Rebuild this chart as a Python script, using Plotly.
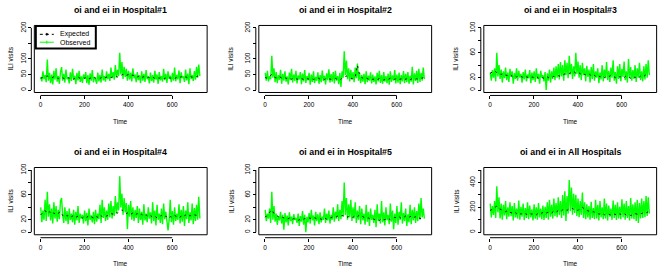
import plotly.graph_objects as go

# ---------------- data ----------------
T_OBS = list(range(1, 731, 5))    # time index of observed values (146 points)
T_EXP = list(range(1, 731, 10))   # time index of expected values (73 points)

obs_h1 = [42, 28, 60, 35, 48, 25, 98, 30, 55, 22,
          50, 18, 62, 33, 70, 27, 45, 20, 58, 74,
          30, 52, 24, 66, 35, 40, 21, 57, 29, 68,
          34, 46, 19, 55, 31, 62, 26, 44, 23, 50,
          36, 58, 22, 48, 17, 54, 30, 64, 25, 42,
          33, 20, 56, 28, 49, 24, 66, 31, 45, 27,
          60, 35, 52, 29, 72, 38, 58, 33, 80, 40,
          65, 45, 120, 50, 90, 36, 75, 42, 68, 30,
          62, 34, 55, 28, 70, 38, 50, 25, 58, 32,
          47, 22, 60, 30, 52, 26, 64, 35, 44, 21,
          56, 29, 48, 24, 62, 33, 50, 20, 58, 31,
          45, 27, 68, 32, 52, 23, 60, 36, 46, 25,
          55, 30, 72, 28, 49, 34, 63, 22, 57, 38,
          44, 26, 66, 31, 53, 19, 70, 35, 48, 29,
          61, 33, 75, 40, 82, 45]
exp_h1 = [38, 40, 42, 45, 41, 39, 43, 40, 37, 42,
          39, 36, 41, 38, 40, 35, 39, 42, 37, 40,
          38, 41, 36, 39, 43, 38, 40, 37, 42, 39,
          41, 44, 40, 43, 46, 42, 45, 48, 52, 47,
          50, 45, 48, 44, 42, 46, 40, 43, 38, 41,
          39, 42, 37, 40, 38, 41, 36, 39, 42, 38,
          40, 37, 41, 39, 43, 38, 42, 40, 44, 41,
          45, 43, 47]

obs_h2 = [55, 30, 62, 28, 45, 35, 110, 40, 70, 25,
          58, 22, 48, 33, 65, 20, 52, 30, 60, 27,
          44, 18, 56, 32, 68, 24, 50, 29, 62, 21,
          47, 34, 58, 19, 53, 28, 64, 23, 45, 31,
          55, 17, 50, 26, 60, 22, 42, 30, 57, 20,
          48, 25, 63, 29, 46, 18, 54, 32, 67, 24,
          51, 27, 58, 21, 62, 30, 45, 19, 55, 10,
          60, 40, 125, 48, 95, 35, 70, 28, 65, 33,
          58, 25, 72, 38, 85, 30, 55, 22, 48, 27,
          52, 19, 60, 25, 46, 30, 57, 21, 50, 26,
          44, 18, 55, 28, 62, 23, 48, 20, 58, 27,
          45, 22, 53, 17, 60, 26, 47, 30, 64, 21,
          50, 24, 56, 19, 48, 28, 61, 22, 52, 25,
          58, 20, 46, 27, 75, 18, 54, 29, 62, 23,
          68, 26, 55, 30, 72, 35]
exp_h2 = [40, 38, 45, 50, 42, 39, 44, 41, 37, 40,
          36, 38, 35, 39, 37, 34, 38, 36, 33, 37,
          35, 38, 34, 36, 39, 35, 37, 34, 38, 36,
          35, 33, 37, 34, 32, 38, 42, 45, 40, 38,
          36, 42, 80, 48, 40, 37, 39, 35, 38, 34,
          36, 33, 37, 35, 32, 36, 34, 38, 33, 35,
          37, 34, 36, 32, 35, 38, 33, 37, 34, 36,
          35, 38, 40]

obs_h3 = [28, 15, 32, 20, 35, 14, 60, 22, 40, 18,
          33, 12, 30, 19, 36, 16, 28, 13, 34, 21,
          30, 10, 27, 18, 35, 15, 31, 20, 26, 12,
          29, 17, 33, 14, 25, 19, 32, 11, 28, 16,
          30, 13, 35, 18, 26, 10, 31, 20, 24, 14,
          29, 0, 27, 15, 33, 12, 30, 18, 36, 16,
          38, 20, 42, 17, 45, 22, 40, 15, 48, 24,
          44, 19, 55, 25, 42, 18, 38, 22, 60, 26,
          46, 20, 40, 16, 44, 24, 35, 14, 39, 21,
          33, 12, 37, 18, 42, 15, 30, 20, 35, 11,
          28, 17, 40, 14, 33, 19, 45, 16, 31, 13,
          36, 20, 48, 15, 29, 10, 38, 18, 42, 14,
          34, 21, 46, 16, 30, 12, 50, 19, 37, 15,
          32, 18, 40, 13, 35, 20, 44, 16, 30, 14,
          38, 17, 42, 20, 48, 24]
exp_h3 = [27, 29, 31, 28, 26, 25, 27, 24, 23, 25,
          22, 24, 21, 23, 22, 20, 22, 21, 19, 21,
          20, 22, 19, 21, 20, 18, 21, 19, 20, 22,
          21, 23, 22, 24, 26, 25, 27, 28, 30, 27,
          29, 26, 28, 25, 24, 26, 23, 25, 22, 24,
          21, 23, 20, 22, 21, 24, 22, 20, 23, 21,
          22, 20, 23, 21, 19, 22, 20, 23, 21, 24,
          22, 25, 27]

obs_h4 = [40, 16, 35, 20, 52, 18, 65, 25, 45, 19,
          38, 14, 48, 22, 42, 17, 36, 21, 50, 55,
          28, 15, 40, 18, 34, 13, 38, 20, 30, 16,
          36, 12, 33, 19, 42, 15, 30, 22, 28, 14,
          35, 18, 31, 11, 38, 20, 27, 16, 33, 13,
          36, 17, 30, 21, 44, 15, 52, 23, 40, 18,
          35, 20, 46, 24, 50, 22, 42, 26, 58, 30,
          48, 35, 90, 40, 62, 28, 55, 32, 47, 5,
          44, 25, 50, 20, 40, 18, 36, 23, 42, 15,
          38, 20, 33, 12, 45, 19, 30, 16, 40, 22,
          32, 14, 48, 18, 35, 11, 44, 20, 30, 15,
          38, 13, 46, 21, 33, 17, 3, 19, 52, 16,
          34, 12, 40, 18, 30, 20, 45, 14, 36, 17,
          42, 10, 35, 21, 48, 15, 32, 19, 46, 13,
          39, 18, 44, 20, 57, 22]
exp_h4 = [28, 32, 35, 30, 33, 29, 31, 28, 30, 33,
          27, 29, 26, 28, 25, 27, 24, 26, 25, 23,
          26, 24, 27, 25, 23, 26, 24, 28, 25, 27,
          26, 28, 30, 29, 32, 31, 34, 36, 33, 30,
          32, 29, 31, 28, 30, 27, 29, 26, 28, 25,
          27, 24, 26, 23, 25, 27, 24, 26, 22, 25,
          24, 27, 25, 23, 26, 24, 28, 25, 27, 26,
          28, 27, 30]

obs_h5 = [36, 18, 30, 22, 38, 15, 65, 20, 42, 17,
          30, 12, 26, 19, 33, 14, 28, 4, 31, 16,
          27, 11, 32, 18, 25, 13, 29, 20, 23, 15,
          30, 10, 26, 17, 34, 12, 28, 0, 25, 16,
          31, 14, 36, 19, 27, 11, 33, 18, 29, 13,
          32, 16, 25, 20, 38, 15, 30, 19, 35, 14,
          28, 20, 40, 17, 33, 22, 45, 18, 36, 21,
          50, 25, 80, 28, 55, 20, 45, 24, 52, 18,
          40, 22, 48, 15, 35, 20, 42, 13, 38, 19,
          30, 12, 44, 17, 33, 10, 38, 20, 28, 15,
          36, 8, 45, 18, 30, 14, 50, 16, 32, 11,
          40, 19, 28, 13, 46, 17, 35, 5, 30, 15,
          42, 12, 33, 20, 48, 14, 31, 18, 38, 10,
          29, 16, 44, 13, 36, 19, 40, 15, 34, 18,
          46, 20, 55, 24, 38, 22]
exp_h5 = [24, 28, 33, 36, 30, 27, 25, 23, 24, 22,
          21, 23, 20, 22, 21, 19, 21, 20, 22, 21,
          23, 22, 24, 23, 21, 22, 20, 23, 21, 22,
          23, 25, 24, 26, 25, 27, 26, 24, 25, 23,
          24, 27, 25, 28, 26, 24, 22, 23, 21, 22,
          20, 21, 19, 22, 20, 21, 23, 20, 22, 24,
          23, 25, 22, 24, 26, 23, 25, 27, 24, 26,
          23, 22, 24]

obs_all = [230, 120, 210, 140, 250, 115, 370, 160, 280, 110,
           230, 100, 220, 135, 250, 105, 200, 125, 240, 130,
           210, 95, 235, 120, 190, 110, 255, 100, 205, 125,
           230, 98, 195, 115, 240, 105, 215, 120, 185, 95,
           225, 110, 200, 100, 235, 120, 190, 105, 215, 98,
           205, 115, 240, 100, 260, 125, 220, 110, 270, 130,
           235, 120, 280, 140, 250, 115, 300, 135, 330, 90,
           290, 150, 420, 170, 360, 140, 310, 155, 300, 130,
           270, 120, 250, 140, 320, 115, 240, 105, 225, 120,
           210, 100, 245, 115, 195, 105, 260, 110, 220, 95,
           250, 120, 200, 105, 270, 110, 230, 95, 215, 125,
           190, 100, 255, 115, 220, 98, 240, 110, 205, 105,
           265, 120, 230, 100, 250, 115, 210, 95, 275, 110,
           225, 105, 240, 90, 260, 75, 235, 110, 270, 115,
           250, 120, 290, 130, 280, 150]
exp_all = [175, 185, 195, 210, 190, 180, 170, 165, 175, 160,
           155, 165, 150, 160, 145, 155, 150, 140, 152, 145,
           150, 140, 155, 148, 160, 150, 158, 165, 155, 170,
           160, 175, 165, 180, 185, 175, 190, 195, 185, 180,
           175, 195, 200, 185, 175, 170, 160, 165, 155, 150,
           145, 155, 140, 150, 145, 138, 150, 140, 135, 148,
           140, 150, 138, 145, 135, 140, 150, 145, 155, 150,
           160, 155, 165]

TITLES = ["oi and ei in Hospital#1", "oi and ei in Hospital#2", "oi and ei in Hospital#3",
          "oi and ei in Hospital#4", "oi and ei in Hospital#5", "oi and ei in All Hospitals"]
OBS = [obs_h1, obs_h2, obs_h3, obs_h4, obs_h5, obs_all]
EXP = [exp_h1, exp_h2, exp_h3, exp_h4, exp_h5, exp_all]
YMAX = [200, 200, 100, 100, 100, 500]
YTICKS = [[0, 50, 100, 150, 200], [0, 50, 100, 150, 200],
          [0, 20, 40, 60, 80, 100], [0, 20, 40, 60, 80, 100],
          [0, 20, 40, 60, 80, 100], [0, 100, 200, 300, 400, 500]]
YTICKTEXT = [["0", "50", "100", "", "200"], ["0", "50", "100", "", "200"],
             ["0", "20", "", "60", "", "100"], ["0", "20", "", "60", "", "100"],
             ["0", "20", "", "60", "", "100"], ["0", "", "200", "", "400", ""]]
XTICKS = [0, 200, 400, 600]
LEGEND_LABELS = ["Expected", "Observed"]

# ---------------- layout geometry ----------------
W, H = 661, 270
FONT = "Liberation Sans, Arial, sans-serif"
GREEN = "#00FF00"
COL_ZERO = [40.5, 265.0, 490.0]     # pixel x of time 0 in each column
XSCALE = 0.2195                      # px per time unit
XLIM = [-28.16, 759.16]
ROW_ZERO = [87.3, 231.7]             # pixel y of value 0
ROW_SPAN = [63.0, 63.2]              # pixels from 0 to ymax
GAP = 3.0

def fx(px):
    return px / W

def fy(py):
    return 1 - py / H

fig = go.Figure()
shapes = []
annotations = []
layout_axes = {}

for k in range(6):
    r, c = divmod(k, 3)
    n = "" if k == 0 else str(k + 1)
    ymax = YMAX[k]
    ylim = [-0.04 * ymax, 1.04 * ymax]
    bx0 = COL_ZERO[c] + XLIM[0] * XSCALE
    bx1 = COL_ZERO[c] + XLIM[1] * XSCALE
    by_top = ROW_ZERO[r] - 1.04 * ROW_SPAN[r]
    by_bot = ROW_ZERO[r] + 0.04 * ROW_SPAN[r]

    fig.add_trace(go.Scatter(x=T_OBS, y=OBS[k], mode="lines",
                             line=dict(color=GREEN, width=1.4),
                             xaxis="x" + n, yaxis="y" + n, showlegend=False,
                             name="Observed"))
    fig.add_trace(go.Scatter(x=T_EXP, y=EXP[k], mode="lines",
                             line=dict(color="black", width=1, dash="2px,4px"),
                             xaxis="x" + n, yaxis="y" + n, showlegend=False,
                             name="Expected"))

    layout_axes["xaxis" + n] = dict(
        domain=[fx(bx0), fx(bx1)], range=XLIM, anchor="free",
        position=fy(by_bot + GAP), showgrid=False, zeroline=False, showline=False,
        ticks="outside", ticklen=3, tickwidth=1, tickcolor="black",
        tickvals=XTICKS, ticktext=[str(v) for v in XTICKS],
        tickfont=dict(family=FONT, size=6.5, color="black"), fixedrange=True)
    layout_axes["yaxis" + n] = dict(
        domain=[fy(by_bot), fy(by_top)], range=ylim, anchor="free",
        position=fx(bx0 - GAP), showgrid=False, zeroline=False, showline=False,
        ticks="outside", ticklen=3, tickwidth=1, tickcolor="black",
        tickvals=YTICKS[k], ticktext=YTICKTEXT[k], tickangle=-90,
        tickfont=dict(family=FONT, size=6.5, color="black"), fixedrange=True)

    # plot box
    shapes.append(dict(type="rect", xref="paper", yref="paper",
                       x0=fx(bx0), x1=fx(bx1), y0=fy(by_bot), y1=fy(by_top),
                       line=dict(color="black", width=1), layer="above"))
    # axis lines (from first to last tick, R style)
    shapes.append(dict(type="line", xref="x" + n, yref="paper",
                       x0=XTICKS[0], x1=XTICKS[-1],
                       y0=fy(by_bot + GAP), y1=fy(by_bot + GAP),
                       line=dict(color="black", width=1)))
    shapes.append(dict(type="line", xref="paper", yref="y" + n,
                       x0=fx(bx0 - GAP), x1=fx(bx0 - GAP),
                       y0=YTICKS[k][0], y1=YTICKS[k][-1],
                       line=dict(color="black", width=1)))

    cx = (bx0 + bx1) / 2
    annotations.append(dict(text="<b>" + TITLES[k] + "</b>", xref="paper", yref="paper",
                            x=fx(cx), y=fy(by_top - 16), showarrow=False,
                            font=dict(family=FONT, size=8.8, color="black"),
                            xanchor="center", yanchor="middle"))
    annotations.append(dict(text="Time", xref="paper", yref="paper",
                            x=fx(cx), y=fy(by_bot + 29.5), showarrow=False,
                            font=dict(family=FONT, size=6.5, color="black"),
                            xanchor="center", yanchor="middle"))
    ylab_x = 10.5 if c == 0 else bx0 - 28
    annotations.append(dict(text="ILI visits", xref="paper", yref="paper",
                            x=fx(ylab_x), y=fy((by_top + by_bot) / 2), showarrow=False,
                            textangle=-90,
                            font=dict(family=FONT, size=6.5, color="black"),
                            xanchor="center", yanchor="middle"))

    if k == 0:
        lx0, ly0 = bx0 + 1.5, by_top + 0.5
        lx1, ly1 = lx0 + 60, ly0 + 23
        shapes.append(dict(type="rect", xref="paper", yref="paper",
                           x0=fx(lx0), x1=fx(lx1), y0=fy(ly1), y1=fy(ly0),
                           line=dict(color="black", width=2), fillcolor="white",
                           layer="above"))
        rows_y = [ly0 + 8.5, ly0 + 16.5]
        # Expected sample: dashed black with dot
        shapes.append(dict(type="line", xref="paper", yref="paper",
                           x0=fx(lx0 + 4), x1=fx(lx0 + 18), y0=fy(rows_y[0]), y1=fy(rows_y[0]),
                           line=dict(color="black", width=1, dash="3px,3px"), layer="above"))
        shapes.append(dict(type="circle", xref="paper", yref="paper",
                           x0=fx(lx0 + 10), x1=fx(lx0 + 12), y0=fy(rows_y[0] + 1), y1=fy(rows_y[0] - 1),
                           line=dict(color="black", width=0.5), fillcolor="black", layer="above"))
        # Observed sample: solid green with small plus
        shapes.append(dict(type="line", xref="paper", yref="paper",
                           x0=fx(lx0 + 4), x1=fx(lx0 + 18), y0=fy(rows_y[1]), y1=fy(rows_y[1]),
                           line=dict(color=GREEN, width=1), layer="above"))
        shapes.append(dict(type="line", xref="paper", yref="paper",
                           x0=fx(lx0 + 11), x1=fx(lx0 + 11), y0=fy(rows_y[1] + 1.5), y1=fy(rows_y[1] - 1.5),
                           line=dict(color=GREEN, width=1), layer="above"))
        for lab, yy in zip(LEGEND_LABELS, rows_y):
            annotations.append(dict(text=lab, xref="paper", yref="paper",
                                    x=fx(lx0 + 22), y=fy(yy), showarrow=False,
                                    font=dict(family=FONT, size=7, color="black"),
                                    xanchor="left", yanchor="middle"))

fig.update_layout(width=W, height=H, margin=dict(l=0, r=0, t=0, b=0),
                  paper_bgcolor="white", plot_bgcolor="white",
                  shapes=shapes, annotations=annotations, showlegend=False,
                  **layout_axes)
fig.write_html("out.html", config={"displayModeBar": False},
               post_script="document.body.style.margin='0';document.body.style.overflow='hidden';")
